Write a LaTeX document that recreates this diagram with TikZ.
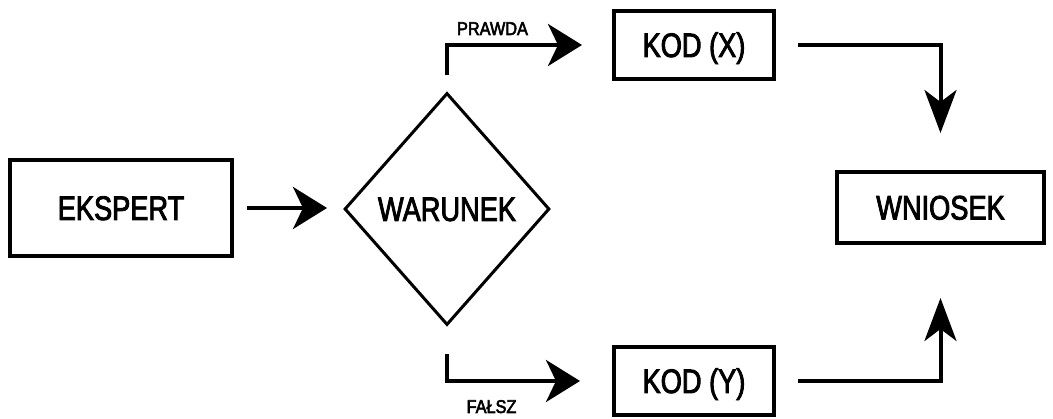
\documentclass[tikz,border=0pt]{standalone}
\usepackage{fontspec}
\setmainfont{Liberation Sans}
\newfontfamily\mainf[FakeStretch=0.80,FakeBold=2.5]{Liberation Sans}
\newfontfamily\lblf[FakeStretch=0.88,FakeBold=3]{Liberation Sans}
\usetikzlibrary{shapes.geometric,arrows.meta}
\begin{document}
\begin{tikzpicture}[x=1pt,y=-1pt,
  box/.style={draw=black,line width=4pt,rectangle,inner sep=0pt,
    font=\mainf\fontsize{34}{34}\selectfont,text height=24pt,text depth=0pt},
  cond/.style={draw=black,line width=3pt,diamond,inner sep=0pt,
    minimum width=205pt,minimum height=232pt,
    font=\mainf\fontsize{34}{34}\selectfont,text height=24pt,text depth=0pt},
  lbl/.style={inner sep=0pt,font=\lblf\fontsize{18.5}{18.5}\selectfont,
    text height=13pt,text depth=0pt},
  harr/.style={line width=4pt,-{Stealth[length=34pt,width=42pt,inset=10pt]}},
  varr/.style={line width=4pt,-{Stealth[length=43pt,width=32pt,inset=12pt]}}
]
\useasboundingbox (0,0) rectangle (1053,419);
\fill[white] (0,0) rectangle (1053,419);

\node[box,minimum width=222pt,minimum height=96pt] (eks) at (121,208) {EKSPERT};
\node[cond] (war) at (447,209) {WARUNEK};
\node[box,minimum width=160pt,minimum height=68pt] (kx) at (694,45) {KOD (X)};
\node[box,minimum width=160pt,minimum height=68pt] (ky) at (694,381) {KOD (Y)};
\node[box,minimum width=207pt,minimum height=71pt] (wn) at (940.5,207.5) {WNIOSEK};

\node[lbl] (lp) at (492.5,28.5) {PRAWDA};
\node[lbl] (lf) at (491.5,406.5) {FAŁSZ};

\draw[harr,shorten <=13pt,shorten >=16pt] (eks.east) -- (eks.east -| war.west);
\draw[harr,shorten <=16pt,shorten >=30pt] (war.north) |- (kx.west);
\draw[harr,shorten <=28pt,shorten >=32pt] (war.south) |- (ky.west);
\draw[varr,shorten <=22pt,shorten >=37pt] (kx.east) -| (wn.north);
\draw[varr,shorten <=22pt,shorten >=53pt] (ky.east) -| (wn.south);
\end{tikzpicture}
\end{document}
